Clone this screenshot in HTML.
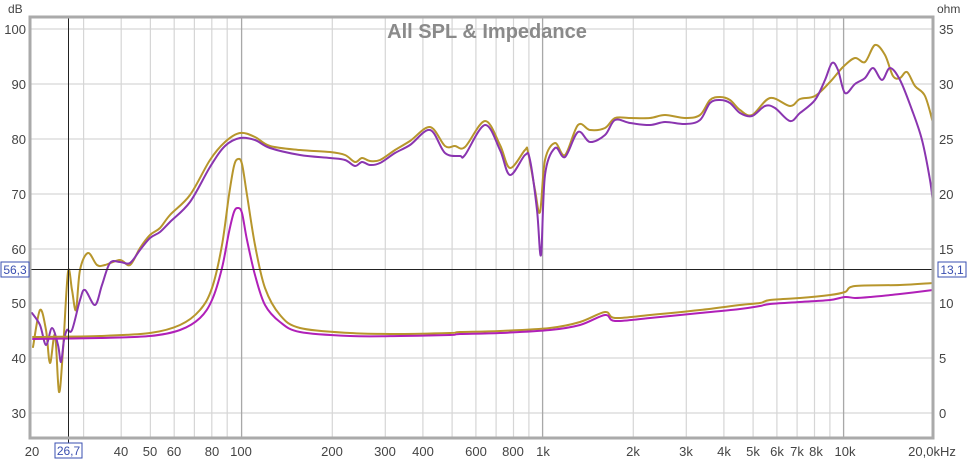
<!DOCTYPE html>
<html><head><meta charset="utf-8"><style>
html,body{margin:0;padding:0;background:#fff;}
svg{display:block;font-family:"Liberation Sans",sans-serif;}
</style></head><body>
<svg id="c" width="973" height="461" viewBox="0 0 973 461">
<rect width="973" height="461" fill="#fff"/>
<g stroke="#d6d6d6" stroke-width="1.2">
<line x1="30" x2="933" y1="29" y2="29"/><line x1="30" x2="933" y1="84" y2="84"/><line x1="30" x2="933" y1="139" y2="139"/><line x1="30" x2="933" y1="194" y2="194"/><line x1="30" x2="933" y1="249" y2="249"/><line x1="30" x2="933" y1="303" y2="303"/><line x1="30" x2="933" y1="358" y2="358"/><line x1="30" x2="933" y1="413" y2="413"/>
<line x1="83.6" x2="83.6" y1="17" y2="438"/><line x1="121.2" x2="121.2" y1="17" y2="438"/><line x1="150.4" x2="150.4" y1="17" y2="438"/><line x1="174.2" x2="174.2" y1="17" y2="438"/><line x1="194.4" x2="194.4" y1="17" y2="438"/><line x1="211.8" x2="211.8" y1="17" y2="438"/><line x1="227.2" x2="227.2" y1="17" y2="438"/>
<line x1="332.3" x2="332.3" y1="17" y2="438"/><line x1="385.3" x2="385.3" y1="17" y2="438"/><line x1="422.9" x2="422.9" y1="17" y2="438"/><line x1="452.1" x2="452.1" y1="17" y2="438"/><line x1="475.9" x2="475.9" y1="17" y2="438"/><line x1="496.1" x2="496.1" y1="17" y2="438"/><line x1="513.5" x2="513.5" y1="17" y2="438"/><line x1="528.9" x2="528.9" y1="17" y2="438"/>
<line x1="633.3" x2="633.3" y1="17" y2="438"/><line x1="686.3" x2="686.3" y1="17" y2="438"/><line x1="723.9" x2="723.9" y1="17" y2="438"/><line x1="753.1" x2="753.1" y1="17" y2="438"/><line x1="776.9" x2="776.9" y1="17" y2="438"/><line x1="797.1" x2="797.1" y1="17" y2="438"/><line x1="814.5" x2="814.5" y1="17" y2="438"/><line x1="829.9" x2="829.9" y1="17" y2="438"/>
</g>
<g stroke="#a8a8a8" stroke-width="1.3">
<line x1="241.6" x2="241.6" y1="17" y2="438"/><line x1="542.6" x2="542.6" y1="17" y2="438"/><line x1="843.6" x2="843.6" y1="17" y2="438"/>
</g>
<text x="487" y="38" text-anchor="middle" font-size="20" font-weight="bold" fill="#8a8a8a">All SPL &amp; Impedance</text>
<g fill="none" stroke-width="2" stroke-linejoin="round" stroke-linecap="round">
<polyline stroke="#b7962c" points="33,347 40,310 46,330 50,363 55,335 59,392 63,350 68,272 72,290 76,310 80,270 88,253 97,265 105,265 120,260 130,265 140,248 150,235 160,228 170,215 190,195 210,160 225,142 240,133 255,137 270,146 300,150 330,152 345,155 355,162 362,158 370,161 380,160 395,150 410,141 430,127 445,146 455,146 465,147 485,121 500,145 510,168 525,150 528,152 535,190 540,212 545,160 555,143 565,155 578,125 590,130 605,128 615,118 630,118 650,118 665,115 685,118 700,115 710,100 720,97 730,100 740,110 752,115 770,98 790,106 800,99 815,96 830,82 843,67 855,58 865,62 875,45 885,55 893,76 900,78 907,72 915,86 925,96 933,123"/>
<polyline stroke="#8a35b0" points="32,313 40,325 46,345 52,328 58,345 61,362 64,340 67,330 72,330 80,300 85,290 95,305 102,285 110,263 120,262 130,263 140,250 150,238 160,232 170,222 190,202 210,167 225,146 240,138 255,140 270,148 300,155 330,158 345,160 355,166 362,162 370,165 380,163 395,153 410,145 430,130 445,153 460,156 465,155 485,125 500,150 510,175 525,155 530,160 537,210 541,255 545,175 555,148 565,157 578,132 590,142 605,135 615,120 630,123 650,125 665,122 685,124 700,120 710,103 720,100 730,103 740,113 752,116 765,106 775,108 790,121 800,113 815,100 825,80 832,63 838,70 845,93 855,84 865,78 873,68 882,80 890,68 900,80 912,110 922,140 930,180 933,203"/>
<polyline stroke="#b7962c" points="33,337 100,336 150,333 180,325 200,310 212,288 222,245 229,195 234,166 238,159 242,164 247,195 255,245 265,288 280,315 300,328 350,333 400,334 450,333 460,332 500,331 550,328 580,322 605,312 615,318 650,315 700,310 740,305 760,303 770,300 800,298 830,295 845,292 855,286 900,285 933,283"/>
<polyline stroke="#b020b8" points="33,339 100,338 150,336 180,330 200,318 212,300 222,268 229,232 234,212 238,208 242,213 247,240 255,275 265,305 280,322 300,332 350,336 400,336 450,335 460,334 500,333 550,330 580,325 605,315 615,321 650,318 700,313 740,309 760,306 770,304 800,302 830,300 845,297 855,298 870,297 900,294 933,290"/>
</g>
<line x1="30" x2="933" y1="269.5" y2="269.5" stroke="#222" stroke-width="1"/>
<line x1="68.5" x2="68.5" y1="17" y2="445" stroke="#222" stroke-width="1"/>
<rect x="30" y="17" width="903" height="421" fill="none" stroke="#aaa" stroke-width="3"/>
<g font-size="13" fill="#444" text-anchor="end">
<text x="26" y="34">100</text><text x="26" y="89">90</text><text x="26" y="144">80</text><text x="26" y="199">70</text><text x="26" y="254">60</text><text x="26" y="308">50</text><text x="26" y="363">40</text><text x="26" y="418">30</text>
</g>
<text x="8" y="13" font-size="12" fill="#444">dB</text>
<text x="937" y="13" font-size="12" fill="#444">ohm</text>
<g font-size="13" fill="#444" text-anchor="start">
<text x="939" y="34">35</text><text x="939" y="89">30</text><text x="939" y="144">25</text><text x="939" y="199">20</text><text x="939" y="254">15</text><text x="939" y="308">10</text><text x="939" y="363">5</text><text x="939" y="418">0</text>
</g>
<g font-size="13" fill="#444" text-anchor="middle">
<text x="32" y="456">20</text><text x="121" y="456">40</text><text x="150" y="456">50</text><text x="174" y="456">60</text><text x="212" y="456">80</text><text x="241" y="456">100</text><text x="332" y="456">200</text><text x="385" y="456">300</text><text x="423" y="456">400</text><text x="476" y="456">600</text><text x="513" y="456">800</text><text x="543" y="456">1k</text><text x="633" y="456">2k</text><text x="686" y="456">3k</text><text x="724" y="456">4k</text><text x="753" y="456">5k</text><text x="777" y="456">6k</text><text x="797" y="456">7k</text><text x="816" y="456">8k</text><text x="845" y="456">10k</text><text x="932" y="456">20,0kHz</text>
</g>
<rect x="55" y="443" width="27" height="15" fill="#fff" stroke="#3a4fb0" stroke-width="1"/>
<text x="68.5" y="455" font-size="12" fill="#3a4fb0" text-anchor="middle">26,7</text>
<rect x="1" y="262" width="28" height="15" fill="#fff" stroke="#3a4fb0" stroke-width="1"/>
<text x="15" y="274" font-size="12" fill="#3a4fb0" text-anchor="middle">56,3</text>
<rect x="938" y="262" width="28" height="15" fill="#fff" stroke="#3a4fb0" stroke-width="1"/>
<text x="952" y="274" font-size="12" fill="#3a4fb0" text-anchor="middle">13,1</text>
</svg>
<script>
(function(){
var ns="http://www.w3.org/2000/svg";
var pls=document.querySelectorAll("#c polyline");
for(var k=0;k<pls.length;k++){
var pl=pls[k];
var p=pl.getAttribute("points").trim().split(/\s+/).map(function(s){var a=s.split(",");return [+a[0],+a[1]];});
var d="M"+p[0][0]+","+p[0][1];
for(var i=0;i<p.length-1;i++){
var p0=p[i>0?i-1:0],p1=p[i],p2=p[i+1],p3=p[i+2<p.length?i+2:i+1];
var c1x=p1[0]+(p2[0]-p0[0])/6,c1y=p1[1]+(p2[1]-p0[1])/6;
var c2x=p2[0]-(p3[0]-p1[0])/6,c2y=p2[1]-(p3[1]-p1[1])/6;
d+=" C"+c1x.toFixed(1)+","+c1y.toFixed(1)+" "+c2x.toFixed(1)+","+c2y.toFixed(1)+" "+p2[0]+","+p2[1];
}
var path=document.createElementNS(ns,"path");
path.setAttribute("d",d);
path.setAttribute("stroke",pl.getAttribute("stroke"));
pl.parentNode.replaceChild(path,pl);
}
})();
</script>
</body></html>
